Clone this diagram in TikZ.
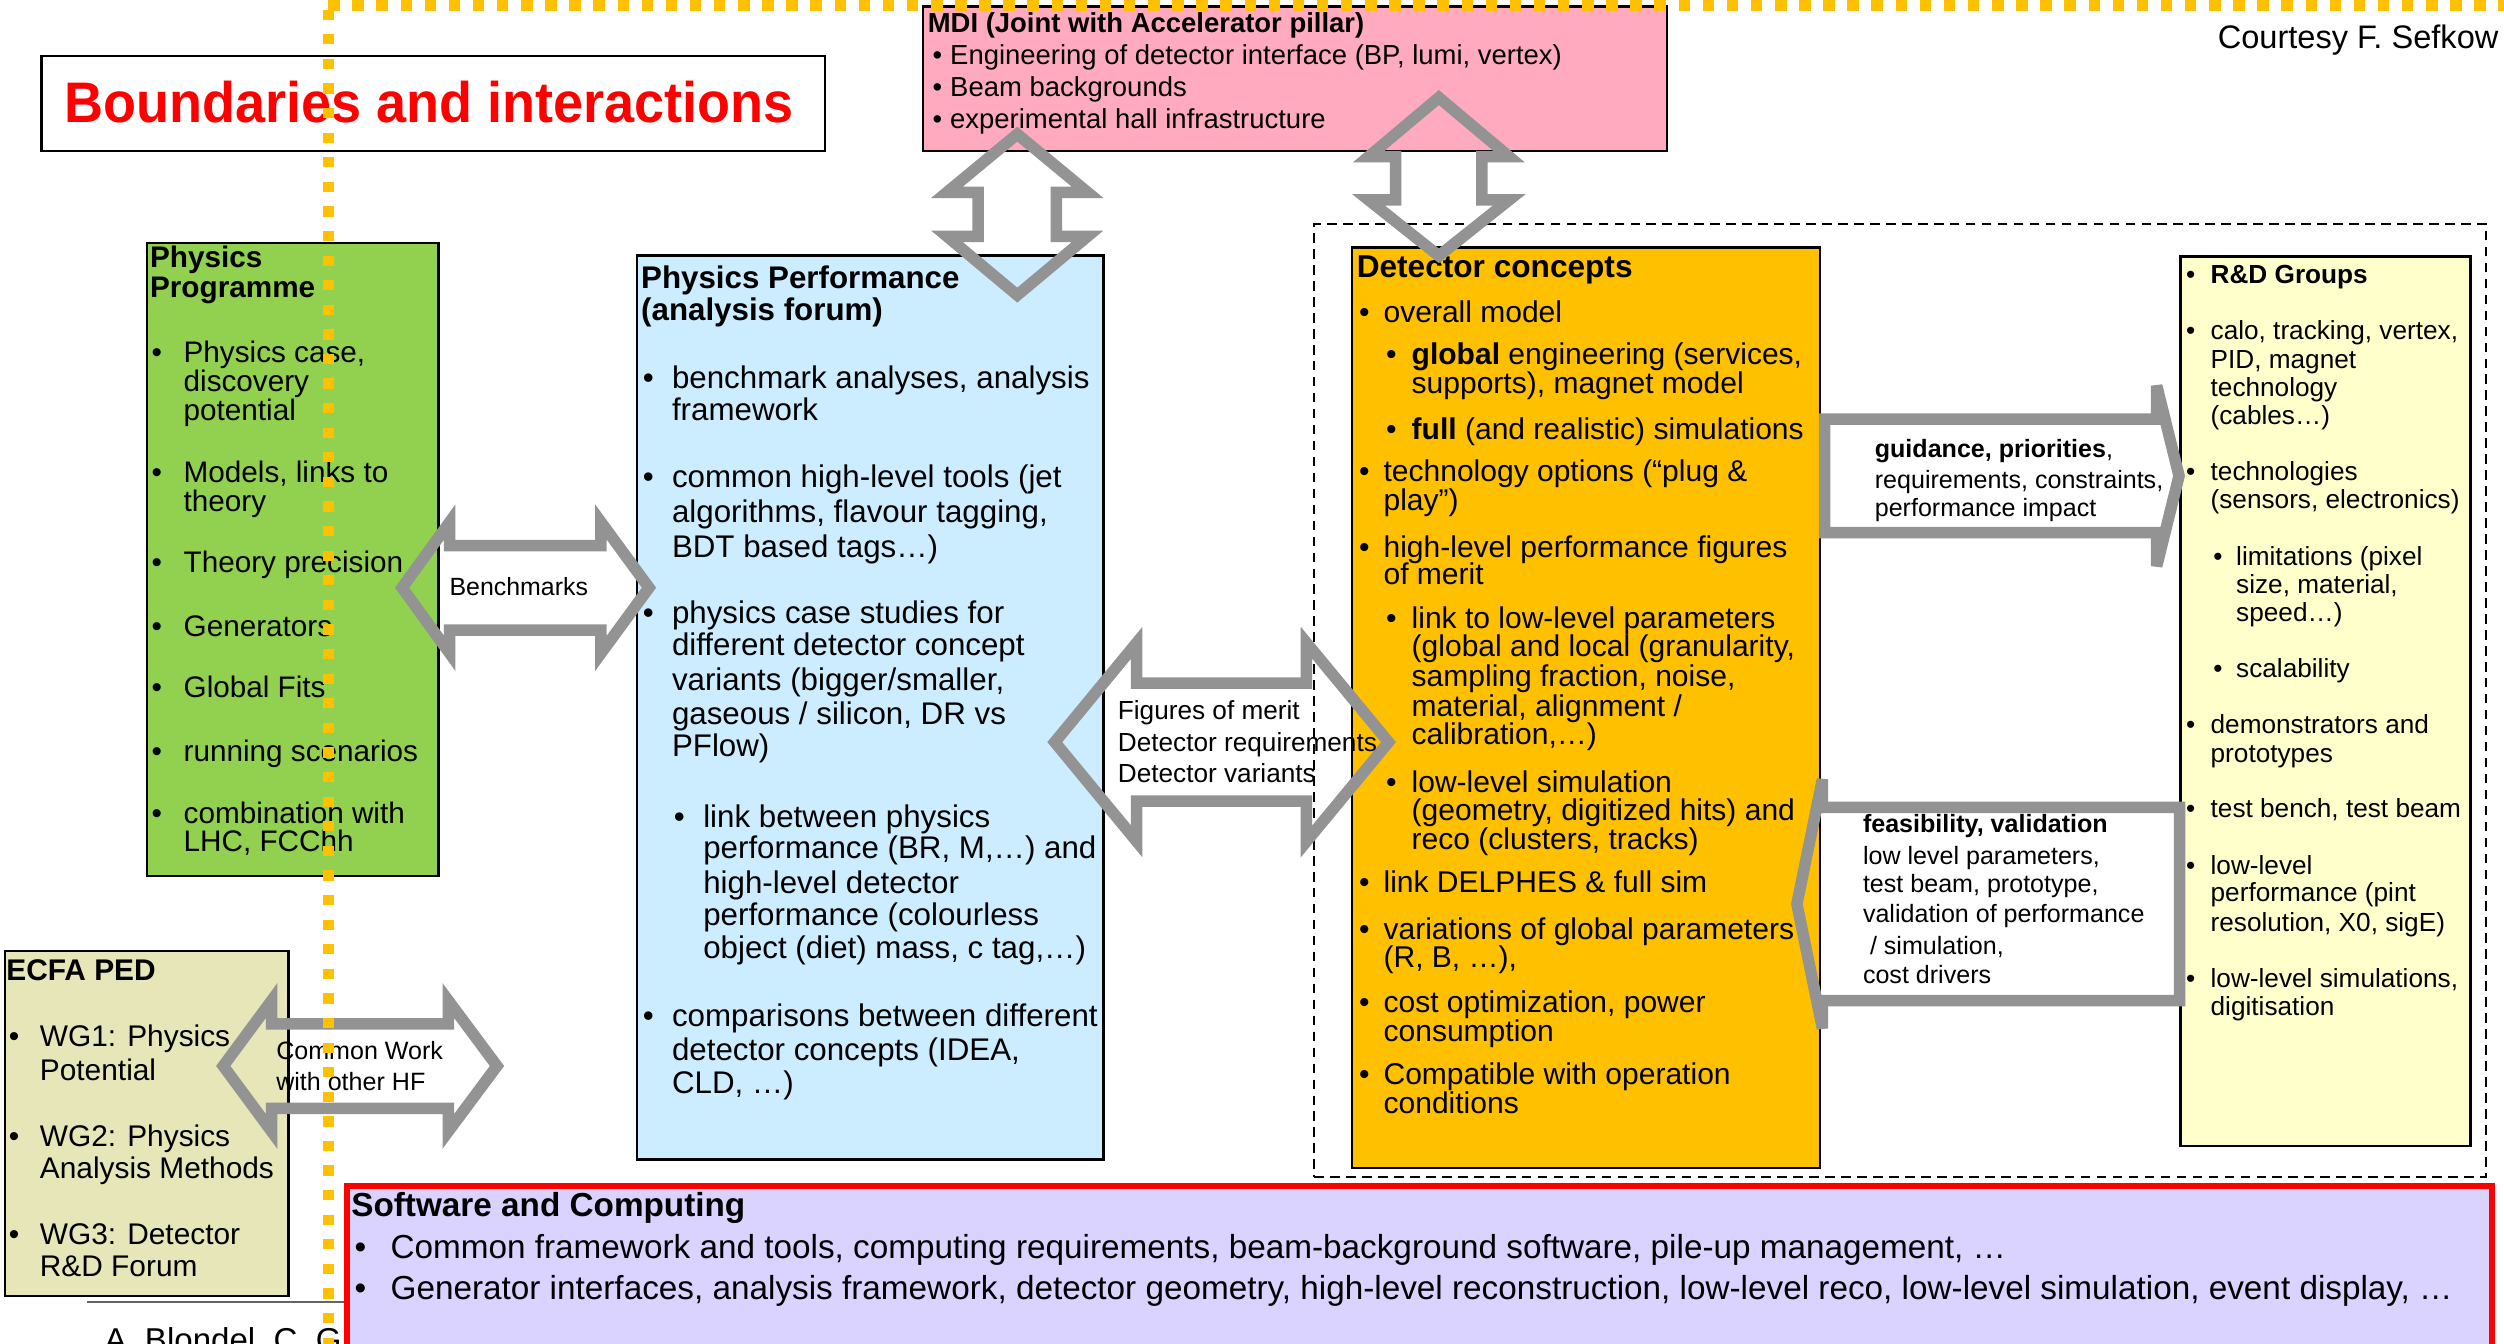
\documentclass[tikz,border=0pt]{standalone}
\usepackage{fontspec}
\setmainfont{Liberation Sans}
\usepackage{graphicx}
\definecolor{ppgreen}{RGB}{146,208,80}
\definecolor{ppblue}{RGB}{204,236,255}
\definecolor{dcorange}{RGB}{255,192,0}
\definecolor{rdyellow}{RGB}{255,255,204}
\definecolor{mdipink}{RGB}{255,170,190}
\definecolor{ecfabeige}{RGB}{230,230,185}
\definecolor{swlav}{RGB}{218,210,255}
\definecolor{arrgray}{RGB}{147,147,147}
\definecolor{dotyellow}{RGB}{255,192,0}
\definecolor{rulegray}{RGB}{100,100,100}
\newcommand\setfs[1]{\fontsize{#1}{#1}\selectfont}
\newcommand\TL[4]{\node[tl] (#1) at (#2,#3) {#4};}
\newcommand\BU[3]{\node[tl] (#1) at (#2,#3) {\textbullet};}
\begin{document}
\begin{tikzpicture}[x=1pt,y=-1pt,
  tl/.style={anchor=base west,inner sep=0pt,outer sep=0pt},
  tr/.style={anchor=base east,inner sep=0pt,outer sep=0pt},
  box/.style={draw=black,line width=1.5pt,inner sep=0pt,outer sep=0pt,anchor=north west},
  blockarrow/.style={draw=arrgray,line width=7.2pt,miter limit=5},
  dotline/.style={draw=dotyellow,line width=7pt}]
\useasboundingbox (0,0) rectangle (1568,841.6);
\clip (0,0) rectangle (1568,841.6);

% ---------- boxes ----------
\node[box,fill=white,line width=1.3pt,minimum width=490.5pt,minimum height=59.5pt] (titlebox) at (26,35) {};
\node[box,fill=mdipink,minimum width=466pt,minimum height=90.5pt] (mdi) at (578,4) {};
\node[box,fill=ppgreen,minimum width=182.5pt,minimum height=396.5pt] (physprog) at (92,152) {};
\node[box,fill=ppblue,minimum width=292pt,minimum height=566pt] (physperf) at (399,160) {};
\node[box,line width=1.2pt,dash pattern=on 6pt off 4pt,minimum width=733.5pt,minimum height=597pt] (dcgroup) at (823,140) {};
\node[box,fill=dcorange,minimum width=293pt,minimum height=576.5pt] (detconc) at (846.5,155) {};
\node[box,fill=rdyellow,minimum width=181.7pt,minimum height=557pt] (rdgroups) at (1365.3,160.5) {};
\node[box,fill=ecfabeige,minimum width=177.7pt,minimum height=216pt] (ecfa) at (3,595.5) {};

% footer rule and author text (partly hidden, as in the original)
\coordinate (rulea) at (54.7,815.5);
\coordinate (ruleb) at (217,815.5);
\draw[rulegray,line width=1.3pt] (rulea) -- (ruleb);
\node[tl,font=\setfs{20.7}] (authors) at (65.5,846) {A. Blondel, C. G};

\node[box,draw=red,line width=3.6pt,fill=swlav,minimum width=1343.3pt,minimum height=130pt] (software) at (217.3,742.5) {};

% ---------- title and courtesy ----------
\node[tl,font=\bfseries\setfs{35.8},text=red] (title) at (40.3,76.8) {\scalebox{0.945}[1]{Boundaries and interactions}};
\node[tr,font=\setfs{20.4}] (courtesy) at (1564.5,30.3) {Courtesy F. Sefkow};

% ---------- MDI ----------
\begin{scope}[every node/.append style={font=\setfs{17.2}}]
\TL{mdit}{581}{20.5}{\bfseries MDI (Joint with Accelerator pillar)}
\BU{mdib1}{584}{40.5}\TL{mdi1}{595}{40.5}{Engineering of detector interface (BP, lumi, vertex)}
\BU{mdib2}{584}{60.5}\TL{mdi2}{595}{60.5}{Beam backgrounds}
\BU{mdib3}{584}{80.3}\TL{mdi3}{595}{80.3}{experimental hall infrastructure}
\end{scope}

% ---------- Physics Programme ----------
\begin{scope}[every node/.append style={font=\setfs{18.6}}]
\TL{pgt1}{94}{167.8}{\bfseries Physics}
\TL{pgt2}{94}{186}{\bfseries Programme}
\BU{pgb1}{95}{227}\TL{pg1}{115}{227}{Physics case,}
\TL{pg2}{115}{245.2}{discovery}
\TL{pg3}{115}{263.6}{potential}
\BU{pgb2}{95}{302}\TL{pg4}{115}{302}{Models, links to}
\TL{pg5}{115}{320}{theory}
\BU{pgb3}{95}{358.8}\TL{pg6}{115}{358.8}{Theory precision}
\BU{pgb4}{95}{398.4}\TL{pg7}{115}{398.4}{Generators}
\BU{pgb5}{95}{436.6}\TL{pg8}{115}{436.6}{Global Fits}
\BU{pgb6}{95}{477}\TL{pg9}{115}{477}{running scenarios}
\BU{pgb7}{95}{515.4}\TL{pg10}{115}{515.4}{combination with}
\TL{pg11}{115}{533.5}{LHC, FCChh}
\end{scope}

% ---------- Physics Performance ----------
\begin{scope}[every node/.append style={font=\setfs{19.6}}]
\TL{pft1}{401.5}{180.8}{\bfseries Physics Performance}
\TL{pft2}{401.5}{201}{\bfseries (analysis forum)}
\BU{pfb1}{402.5}{243.5}\TL{pf1}{420.8}{243.5}{benchmark analyses, analysis}
\TL{pf2}{420.8}{263.6}{framework}
\BU{pfb2}{402.5}{305.3}\TL{pf3}{420.8}{305.3}{common high-level tools (jet}
\TL{pf4}{420.8}{327}{algorithms, flavour tagging,}
\TL{pf5}{420.8}{349}{BDT based tags…)}
\BU{pfb3}{402.5}{390.7}\TL{pf6}{420.8}{390.7}{physics case studies for}
\TL{pf7}{420.8}{410.5}{different detector concept}
\TL{pf8}{420.8}{432.5}{variants (bigger/smaller,}
\TL{pf9}{420.8}{453.4}{gaseous / silicon, DR vs}
\TL{pf10}{420.8}{473.5}{PFlow)}
\BU{pfb4}{422}{517.9}\TL{pf11}{440.4}{517.9}{link between physics}
\TL{pf12}{440.4}{537.6}{performance (BR, M,…) and}
\TL{pf13}{440.4}{559.6}{high-level detector}
\TL{pf14}{440.4}{579.3}{performance (colourless}
\TL{pf15}{440.4}{600.2}{object (diet) mass, c tag,…)}
\BU{pfb5}{402.5}{643}\TL{pf16}{420.8}{643}{comparisons between different}
\TL{pf17}{420.8}{663.8}{detector concepts (IDEA,}
\TL{pf18}{420.8}{684.8}{CLD, …)}
\end{scope}

% ---------- Detector concepts ----------
\node[tl,font=\bfseries\setfs{19.8}] (dct) at (849.6,173.6) {Detector concepts};
\begin{scope}[every node/.append style={font=\setfs{18.8}}]
\BU{dcb1}{851}{201.7}\TL{dc1}{866.4}{201.7}{overall model}
\BU{dcb2}{868}{228.3}\TL{dc2}{884}{228.3}{\textbf{global} engineering (services,}
\TL{dc3}{884}{246.5}{supports), magnet model}
\BU{dcb3}{868}{275}\TL{dc4}{884}{275}{\textbf{full} (and realistic) simulations}
\BU{dcb4}{851}{301.5}\TL{dc5}{866.4}{301.5}{technology options (“plug \&}
\TL{dc6}{866.4}{319.4}{play”)}
\BU{dcb5}{851}{348.8}\TL{dc7}{866.4}{348.8}{high-level performance figures}
\TL{dc8}{866.4}{366}{of merit}
\BU{dcb6}{868}{393.8}\TL{dc9}{884}{393.8}{link to low-level parameters}
\TL{dc10}{884}{411.4}{(global and local (granularity,}
\TL{dc11}{884}{429.6}{sampling fraction, noise,}
\TL{dc12}{884}{448.4}{material, alignment /}
\TL{dc13}{884}{466.5}{calibration,…)}
\BU{dcb7}{868}{496.2}\TL{dc14}{884}{496.2}{low-level simulation}
\TL{dc15}{884}{514}{(geometry, digitized hits) and}
\TL{dc16}{884}{532}{reco (clusters, tracks)}
\BU{dcb8}{851}{558.8}\TL{dc17}{866.4}{558.8}{link DELPHES \& full sim}
\BU{dcb9}{851}{588}\TL{dc18}{866.4}{588}{variations of global parameters}
\TL{dc19}{866.4}{606}{(R, B, …),}
\BU{dcb10}{851}{634.3}\TL{dc20}{866.4}{634.3}{cost optimization, power}
\TL{dc21}{866.4}{651.9}{consumption}
\BU{dcb11}{851}{679.1}\TL{dc22}{866.4}{679.1}{Compatible with operation}
\TL{dc23}{866.4}{697.4}{conditions}
\end{scope}

% ---------- R&D groups ----------
\begin{scope}[every node/.append style={font=\setfs{16.4}}]
\BU{rdb1}{1369}{177.4}\TL{rd1}{1384.3}{177.4}{\textbf{R\&D Groups}}
\BU{rdb2}{1369}{212.3}\TL{rd2}{1384.3}{212.3}{calo, tracking, vertex,}
\TL{rd3}{1384.3}{230.5}{PID, magnet}
\TL{rd4}{1384.3}{248.4}{technology}
\TL{rd5}{1384.3}{265.5}{(cables…)}
\BU{rdb3}{1369}{300.6}\TL{rd6}{1384.3}{300.6}{technologies}
\TL{rd7}{1384.3}{318.6}{(sensors, electronics)}
\BU{rdb4}{1386}{353.8}\TL{rd8}{1400.3}{353.8}{limitations (pixel}
\TL{rd9}{1400.3}{371.7}{size, material,}
\TL{rd10}{1400.3}{388.9}{speed…)}
\BU{rdb5}{1386}{424}\TL{rd11}{1400.3}{424}{scalability}
\BU{rdb6}{1369}{459}\TL{rd12}{1384.3}{459}{demonstrators and}
\TL{rd13}{1384.3}{477.2}{prototypes}
\BU{rdb7}{1369}{512.2}\TL{rd14}{1384.3}{512.2}{test bench, test beam}
\BU{rdb8}{1369}{547.3}\TL{rd15}{1384.3}{547.3}{low-level}
\TL{rd16}{1384.3}{564.5}{performance (pint}
\TL{rd17}{1384.3}{583}{resolution, X0, sigE)}
\BU{rdb9}{1369}{618.5}\TL{rd18}{1384.3}{618.5}{low-level simulations,}
\TL{rd19}{1384.3}{636.2}{digitisation}
\end{scope}

% ---------- ECFA PED ----------
\begin{scope}[every node/.append style={font=\setfs{18.7}}]
\TL{ect}{4}{614}{\bfseries ECFA PED}
\BU{ecb1}{5.5}{655.4}\TL{ec1}{25}{655.4}{WG1: Physics}
\TL{ec2}{25}{676.3}{Potential}
\BU{ecb2}{5.5}{718}\TL{ec3}{25}{718}{WG2: Physics}
\TL{ec4}{25}{737.9}{Analysis Methods}
\BU{ecb3}{5.5}{779.6}\TL{ec5}{25}{779.6}{WG3: Detector}
\TL{ec6}{25}{799.5}{R\&D Forum}
\end{scope}

% ---------- Software and Computing ----------
\begin{scope}[every node/.append style={font=\setfs{20.85}}]
\TL{swt}{220}{761.9}{\bfseries Software and Computing}
\BU{swb1}{222}{788}\TL{sw1}{244.6}{788}{Common framework and tools, computing requirements, beam-background software, pile-up management, …}
\BU{swb2}{222}{813.6}\TL{sw2}{244.6}{813.6}{Generator interfaces, analysis framework, detector geometry, high-level reconstruction, low-level reco, low-level simulation, event display, …}
\end{scope}

% ---------- block arrows ----------
% Physics Programme <-> Physics Performance
\draw[blockarrow] (251.8,368) -- (281.6,326.9) -- (281.6,341.7) -- (376.3,341.7) -- (376.3,326.9) -- (406.4,368)
  -- (376.3,409.1) -- (376.3,394.5) -- (281.6,394.5) -- (281.6,409.1) -- cycle;
% ECFA <-> common work
\draw[blockarrow] (139.8,667.5) -- (170.1,626.5) -- (170.1,641.2) -- (280.7,641.2) -- (280.7,626.5) -- (311.2,667.5)
  -- (280.7,708.5) -- (280.7,694) -- (170.1,694) -- (170.1,708.5) -- cycle;
% Physics Performance <-> Detector concepts
\draw[blockarrow] (660.5,464.7) -- (711.8,402.5) -- (711.8,427.7) -- (818.1,427.7) -- (818.1,402.5) -- (869.5,464.7)
  -- (818.1,526.9) -- (818.1,501.7) -- (711.8,501.7) -- (711.8,526.9) -- cycle;
% MDI <-> Physics Performance
\draw[blockarrow] (637,84) -- (681,120.4) -- (661.5,120.4) -- (661.5,148) -- (681,148) -- (637,184.8)
  -- (593,148) -- (612.5,148) -- (612.5,120.4) -- (593,120.4) -- cycle;
% MDI <-> Detector concepts
\draw[blockarrow] (901,61.1) -- (945,98.1) -- (928,98.1) -- (928,125.2) -- (945,125.2) -- (901,160.2)
  -- (857,125.2) -- (874,125.2) -- (874,98.1) -- (857,98.1) -- cycle;
% Detector concepts -> R&D
\draw[blockarrow] (1142.5,262.5) -- (1350.5,262.5) -- (1350.5,241.5) -- (1364.5,298) -- (1350.5,354.5) -- (1350.5,333.5) -- (1142.5,333.5) -- cycle;
% R&D -> Detector concepts
\draw[blockarrow] (1364.8,505.5) -- (1141.2,505.5) -- (1141.2,488) -- (1125.2,566) -- (1141.2,644) -- (1141.2,626.5) -- (1364.8,626.5) -- cycle;

% ---------- arrow labels ----------
\node[tl,font=\setfs{15.6}] (bench) at (281.5,372.6) {Benchmarks};
\begin{scope}[every node/.append style={font=\setfs{15.7}}]
\TL{cw1}{173}{663.2}{Common Work}
\TL{cw2}{173}{682.6}{with other HF}
\TL{gd1}{1174}{286.4}{\textbf{guidance, priorities},}
\TL{gd2}{1174}{305.8}{requirements, constraints,}
\TL{gd3}{1174}{323.6}{performance impact}
\TL{fs1}{1166.6}{521.6}{\textbf{feasibility, validation}}
\TL{fs2}{1166.6}{541.4}{low level parameters,}
\TL{fs3}{1166.6}{558.8}{test beam, prototype,}
\TL{fs4}{1166.6}{577.8}{validation of performance}
\TL{fs5}{1171}{597.9}{/ simulation,}
\TL{fs6}{1166.6}{615.8}{cost drivers}
\end{scope}
\begin{scope}[every node/.append style={font=\setfs{16.4}}]
\TL{fm1}{700}{450.7}{Figures of merit}
\TL{fm2}{700}{470.3}{Detector requirements}
\TL{fm3}{700}{490.1}{Detector variants}
\end{scope}

% ---------- yellow dotted boundary ----------
\coordinate (ya) at (205.5,0);
\coordinate (yb) at (205.5,842);
\coordinate (yc) at (205.5,3.65);
\coordinate (yd) at (1568,3.65);
\draw[dotline,dash pattern=on 6.4pt off 9pt,dash phase=9.4pt] (ya) -- (yb);
\draw[dotline,dash pattern=on 7.2pt off 7.9pt] (yc) -- (yd);
\end{tikzpicture}
\end{document}
